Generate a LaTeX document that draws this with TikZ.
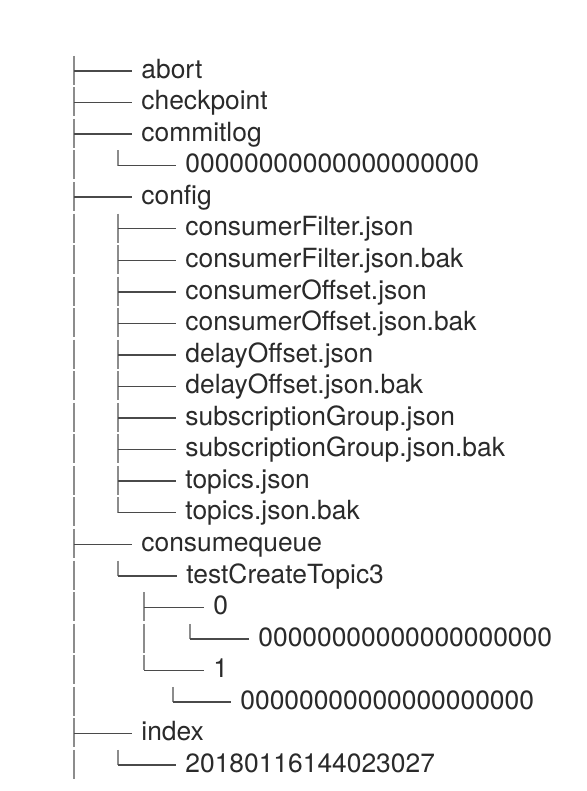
\documentclass[tikz,border=0pt]{standalone}
\usepackage{fontspec}
\setmainfont{TeX Gyre Heros}
\usepackage{tikz}
\usetikzlibrary{positioning}
\definecolor{inkgray}{HTML}{2A2A2A}
\definecolor{linegray}{HTML}{4A4A4A}
\definecolor{trunkgray}{HTML}{8C8C8C}
\tikzset{
    entry/.style={anchor=west, inner xsep=4.5pt, inner ysep=0pt, text height=1.37ex, text depth=0pt, text=inkgray, font=\fontsize{13.2}{15}\selectfont},
    branch/.style={draw=linegray, line width=0.7pt},
    trunk/.style={draw=trunkgray, line width=0.7pt, dash pattern=on 14.5pt off 1.27pt}
}

\begin{document}
\begin{tikzpicture}[x=0.5pt, y=-15.775pt]
        \useasboundingbox[fill=white] (0,-2.25) rectangle (586,22.82);

        % top level
        \node[entry] (abort) at (132,0) {abort};
        \node[entry] (checkpoint) at (132,1) {checkpoint};
        \node[entry] (commitlog) at (132,2) {commitlog};
        \node[entry] (clogfile) at (176,3) {00000000000000000000};
        \node[entry] (config) at (132,4) {config};
        \node[entry] (cfilter) at (176,5) {consumerFilter.json};
        \node[entry] (cfilterbak) at (176,6) {consumerFilter.json.bak};
        \node[entry] (coffset) at (176,7) {consumerOffset.json};
        \node[entry] (coffsetbak) at (176,8) {consumerOffset.json.bak};
        \node[entry] (doffset) at (176,9) {delayOffset.json};
        \node[entry] (doffsetbak) at (176,10) {delayOffset.json.bak};
        \node[entry] (subgroup) at (176,11) {subscriptionGroup.json};
        \node[entry] (subgroupbak) at (176,12) {subscriptionGroup.json.bak};
        \node[entry] (topics) at (176,13) {topics.json};
        \node[entry] (topicsbak) at (176,14) {topics.json.bak};
        \node[entry] (cqueue) at (132,15) {consumequeue};
        \node[entry] (topic3) at (177,16) {testCreateTopic3};
        \node[entry] (qzero) at (204,17) {0};
        \node[entry] (qzerofile) at (249,18) {00000000000000000000};
        \node[entry] (qone) at (204,19) {1};
        \node[entry] (qonefile) at (231,20) {00000000000000000000};
        \node[entry] (index) at (132,21) {index};
        \node[entry] (idxfile) at (176,22) {20180116144023027};

        % trunks
        \coordinate (troot) at (74,-0.48);
        \coordinate (troot-end) at (74,22.5);
        \coordinate (tclog) at (118,2.52);
        \coordinate (tcfg) at (118,4.52);
        \coordinate (tcq) at (118,15.52);
        \coordinate (ttopic) at (144,16.52);
        \coordinate (tqzero) at (190,17.52);
        \coordinate (tqone) at (173,19.52);
        \coordinate (tidx) at (118,21.52);

        \draw[trunk] (troot) -- (troot-end);
        \draw[trunk] (tclog) -- (tclog |- clogfile.west);
        \draw[trunk] (tcfg) -- (tcfg |- topicsbak.west);
        \draw[trunk] (tcq) -- (tcq |- topic3.west);
        \draw[trunk] (ttopic) -- (ttopic |- qone.west);
        \draw[trunk] (tqzero) -- (tqzero |- qzerofile.west);
        \draw[trunk] (tqone) -- (tqone |- qonefile.west);
        \draw[trunk] (tidx) -- (tidx |- idxfile.west);

        % branches
        \foreach \n in {abort, checkpoint, commitlog, config, cqueue, index}
            \draw[branch] (troot |- \n.west) -- (\n.west);
        \foreach \n in {cfilter, cfilterbak, coffset, coffsetbak, doffset, doffsetbak, subgroup, subgroupbak, topics, topicsbak}
            \draw[branch] (tcfg |- \n.west) -- (\n.west);
        \draw[branch] (tclog |- clogfile.west) -- (clogfile.west);
        \draw[branch] (tcq |- topic3.west) -- (topic3.west);
        \draw[branch] (ttopic |- qzero.west) -- (qzero.west);
        \draw[branch] (ttopic |- qone.west) -- (qone.west);
        \draw[branch] (tqzero |- qzerofile.west) -- (qzerofile.west);
        \draw[branch] (tqone |- qonefile.west) -- (qonefile.west);
        \draw[branch] (tidx |- idxfile.west) -- (idxfile.west);
    \end{tikzpicture}
\end{document}
